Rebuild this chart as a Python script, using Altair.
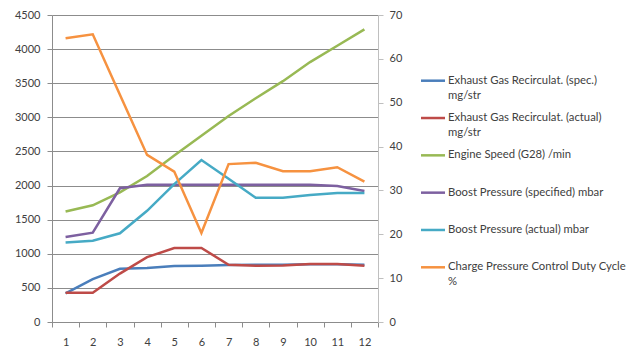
import altair as alt
import pandas as pd

x_vals = list(range(1, 13))
egr_spec = [420, 630, 780, 790, 820, 825, 835, 840, 840, 845, 845, 840]
egr_actual = [430, 430, 710, 950, 1085, 1085, 840, 825, 830, 850, 850, 825]
engine_speed = [1620, 1710, 1900, 2140, 2440, 2730, 3020, 3280, 3530, 3810, 4050, 4290]
boost_spec = [1245, 1310, 1960, 2010, 2010, 2010, 2010, 2010, 2010, 2010, 1995, 1920]
boost_actual = [1165, 1190, 1300, 1630, 2020, 2375, 2100, 1820, 1820, 1860, 1890, 1890]
duty_cycle = [64.7, 65.6, 51.8, 38.1, 34.3, 20.3, 36.0, 36.3, 34.4, 34.4, 35.3, 32.0]

series_names = [
    "Exhaust Gas Recirculat. (spec.) mg/str",
    "Exhaust Gas Recirculat. (actual) mg/str",
    "Engine Speed (G28)  /min",
    "Boost Pressure (specified)  mbar",
    "Boost Pressure (actual)   mbar",
    "Charge Pressure Control Duty Cycle %",
]
legend_line1 = [
    "Exhaust Gas Recirculat. (spec.)",
    "Exhaust Gas Recirculat. (actual)",
    "Engine Speed (G28)  /min",
    "Boost Pressure (specified)  mbar",
    "Boost Pressure (actual)   mbar",
    "Charge Pressure Control Duty Cycle",
]
legend_line2 = ["mg/str", "mg/str", "", "", "", "%"]
colors = ["#4A7EBB", "#BE4B48", "#98B954", "#7D60A0", "#46AAC5", "#F69240"]

left_series = [egr_spec, egr_actual, engine_speed, boost_spec, boost_actual]
rows = []
for name, vals in zip(series_names[:5], left_series):
    for xv, v in zip(x_vals, vals):
        rows.append({"x": xv, "value": v, "series": name})
left_df = pd.DataFrame(rows)
right_df = pd.DataFrame({"x": x_vals, "value": duty_cycle, "series": series_names[5]})
legend_df = pd.DataFrame({
    "row": list(range(6)), "series": series_names,
    "line1": legend_line1, "line2": legend_line2,
})

FONT = "Lato"
TXT = "#404040"
GRID = "#8C8C8C"

color_scale = alt.Scale(domain=series_names, range=colors)
xscale = alt.Scale(domain=[0.5, 12.5], nice=False, zero=False)

left = alt.Chart(left_df).mark_line(strokeWidth=2.5).encode(
    x=alt.X("x:Q", scale=xscale, axis=alt.Axis(
        values=[i + 0.5 for i in range(13)], labels=False, tickSize=5,
        domainColor=GRID, tickColor=GRID, grid=False, title=None, orient="bottom")),
    y=alt.Y("value:Q", scale=alt.Scale(domain=[0, 4500], nice=False), axis=alt.Axis(
        values=list(range(0, 4501, 500)), format="d", orient="left", grid=True,
        gridColor=GRID, tickSize=5, tickColor=GRID, domainColor=GRID, labelPadding=7,
        labelFont=FONT, labelFontSize=11, labelColor=TXT, title=None)),
    color=alt.Color("series:N", scale=color_scale, legend=None),
)

right = alt.Chart(right_df).mark_line(strokeWidth=2.5).encode(
    x=alt.X("x:Q", scale=xscale, axis=alt.Axis(
        values=x_vals, format="d", ticks=False, tickSize=0, domain=False, grid=False,
        labelPadding=14, labelFont=FONT, labelFontSize=11, labelColor=TXT,
        title=None, orient="bottom")),
    y=alt.Y("value:Q", scale=alt.Scale(domain=[0, 70], nice=False), axis=alt.Axis(
        values=list(range(0, 71, 10)), orient="right", grid=False,
        tickSize=5, tickColor="#BFBFBF", domainColor="#BFBFBF", labelPadding=6,
        labelFont=FONT, labelFontSize=11, labelColor=TXT, title=None)),
    color=alt.Color("series:N", scale=color_scale, legend=None),
)

leg_y = alt.Y("row:Q", scale=alt.Scale(domain=[0, 5], range=[65.7, 252.3]), axis=None)
leg_base = alt.Chart(legend_df)
leg_sym = leg_base.mark_rule(strokeWidth=2.5).encode(
    x=alt.value(369), x2=alt.value(393), y=leg_y,
    color=alt.Color("series:N", scale=color_scale, legend=None),
)
leg_t1 = leg_base.mark_text(align="left", baseline="middle", font=FONT, fontSize=11.3,
                             color=TXT).encode(x=alt.value(396), y=leg_y, text="line1:N")
leg_t2 = leg_base.mark_text(align="left", baseline="middle", font=FONT, fontSize=11.3,
                             color=TXT, dy=15).encode(x=alt.value(396), y=leg_y, text="line2:N")

chart = alt.layer(left, right, leg_sym, leg_t1, leg_t2).resolve_scale(
    x="independent", y="independent").properties(
    width=326, height=307,
    autosize=alt.AutoSizeParams(type="none"),
    padding={"left": 44, "top": 7, "right": 254, "bottom": 34},
).configure_view(stroke=None)

chart.save("out.html", embed_options={"renderer": "svg", "actions": False})
